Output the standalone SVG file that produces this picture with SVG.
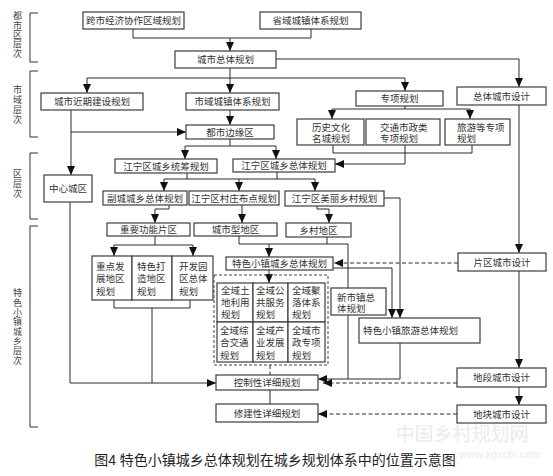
<svg xmlns="http://www.w3.org/2000/svg" width="553" height="476" viewBox="0 0 553 476">
<style>
.b{fill:#fff;stroke:#3c3c3c;stroke-width:1.2}
.t{font-family:"Liberation Sans","Noto Sans CJK SC",sans-serif;font-size:9.5px;fill:#333;text-anchor:middle;dominant-baseline:central}
.l{text-anchor:start}
.vl{font-family:"Liberation Sans","Noto Sans CJK SC",sans-serif;font-size:9px;fill:#444;writing-mode:vertical-rl;text-anchor:start}
.c{fill:none;stroke:#2a2a2a;stroke-width:1}
.a{marker-end:url(#ah)}
.d{stroke-dasharray:4 2.5}
.br{fill:none;stroke:#333;stroke-width:1}
.cap{font-family:"Liberation Sans","Noto Sans CJK SC",sans-serif;font-size:14px;fill:#222;text-anchor:middle;dominant-baseline:central}
.wm{font-family:"Liberation Sans","Noto Sans CJK SC",sans-serif;fill:#ebebeb;text-anchor:middle;dominant-baseline:central}
</style>
<defs>
<marker id="ah" markerUnits="userSpaceOnUse" markerWidth="9" markerHeight="8" refX="9" refY="4" orient="auto">
<path d="M0,0 L9,4 L0,8 Z" fill="#111"/>
</marker>
</defs>
<rect width="553" height="476" fill="#fff"/>

<g id="levels">
<path class="br" d="M38,13 H30 V62 H38 M38,71 H30 V137 H38 M38,153 H30 V219 H38 M38,226 H30 V427 H38"/>
<text class="vl" x="17" y="11.5" letter-spacing="0.3">都市区层次</text>
<text class="vl" x="17" y="85" letter-spacing="1">市域层次</text>
<text class="vl" x="17" y="169" letter-spacing="1">区层次</text>
<text class="vl" x="17" y="288.5" letter-spacing="0.6">特色小镇城乡层次</text>
</g>

<g id="connectors">
<path class="c" d="M133,29 V38 H311 V29"/>
<path class="c a" d="M230,38 V51"/>
<path class="c a" d="M276,59 H519 V87"/>
<path class="c" d="M230,68 V78 M87,78 H405"/>
<path class="c a" d="M87,78 V93"/>
<path class="c a" d="M230,78 V93"/>
<path class="c a" d="M405,78 V91"/>
<path class="c" d="M405,106 V109 M332,109 H470"/>
<path class="c a" d="M332,109 V119"/>
<path class="c a" d="M470,109 V119"/>
<path class="c" d="M333,145 V153 H472 V145 M405,145 V164"/>
<path class="c a" d="M405,164 H335"/>
<path class="c a" d="M519,105 V253"/>
<path class="c a" d="M71,110 V175"/>
<path class="c a" d="M71,132 H186"/>
<path class="c a" d="M230,110 V125"/>
<path class="c" d="M230,139 V146 M185,146 H276"/>
<path class="c a" d="M185,146 V159"/>
<path class="c a" d="M276,146 V159"/>
<path class="c" d="M187,173 V179 M277,172 V179 M164,179 H315"/>
<path class="c a" d="M164,179 V191"/>
<path class="c a" d="M239,179 V191"/>
<path class="c a" d="M315,179 V191"/>
<path class="c a" d="M169,205 V209 H155 V223"/>
<path class="c a" d="M242,205 V223"/>
<path class="c a" d="M317,206 V209 H329 V223"/>
<path class="c a" d="M384,198 H400 V318"/>
<path class="c" d="M155,236 V245 M114,245 H193"/>
<path class="c a" d="M114,245 V256"/>
<path class="c a" d="M193,245 V256"/>
<path class="c" d="M239,236 V244 H348 V288 M327,237 V244"/>
<path class="c a" d="M269,244 V257"/>
<path class="c a" d="M269,270 V283"/>
<path class="c a" d="M333,268 H392 V318"/>
<path class="c d a" d="M458,263 H334"/>
<path class="c a" d="M519,271 V368"/>
<path class="c a" d="M519,387 V405"/>
<path class="c" d="M348,315 V379 M400,343 V379"/>
<path class="c a" d="M400,379 H318"/>
<path class="c d a" d="M457,383 H323"/>
<path class="c a" d="M70,202 V383 H216"/>
<path class="c" d="M114,300 V308 H190 V300 M152,308 V383"/>
<path class="c d" d="M270,365 V375"/>
<path class="c" d="M270,390 V404"/>
<path class="c d a" d="M457,414 H318"/>
</g>

<g id="n-kuashi"><rect class="b" x="83" y="12" width="101" height="17"/><text class="t" x="133.5" y="20.5">跨市经济协作区域规划</text></g>
<g id="n-shengyu"><rect class="b" x="260" y="12" width="101" height="17"/><text class="t" x="310.5" y="20.5">省域城镇体系规划</text></g>
<g id="n-zongti"><rect class="b" x="175" y="51" width="101" height="17"/><text class="t" x="225.5" y="59.5">城市总体规划</text></g>
<g id="n-jinqi"><rect class="b" x="41" y="93" width="102" height="17"/><text class="t" x="92" y="101.5">城市近期建设规划</text></g>
<g id="n-shiyu"><rect class="b" x="186" y="93" width="93" height="17"/><text class="t" x="232.5" y="101.5">市域城镇体系规划</text></g>
<g id="n-zhuanxiang"><rect class="b" x="356" y="91" width="87" height="15"/><text class="t" x="399.5" y="98.5">专项规划</text></g>
<g id="n-zongtisheji"><rect class="b" x="457" y="87" width="89" height="18"/><text class="t" x="501.5" y="96">总体城市设计</text></g>
<g id="n-lishi"><rect class="b" x="297" y="119" width="67" height="26"/><text class="t l" x="312" y="127">历史文化</text><text class="t l" x="312" y="138.5">名城规划</text></g>
<g id="n-jiaotong"><rect class="b" x="366" y="119" width="74" height="26"/><text class="t l" x="380" y="127">交通市政类</text><text class="t l" x="380" y="138.5">专项规划</text></g>
<g id="n-lvyou"><rect class="b" x="445" y="119" width="65" height="26"/><text class="t l" x="457" y="127">旅游等专项</text><text class="t l" x="457" y="138.5">规划</text></g>
<g id="n-bianyuan"><rect class="b" x="186" y="125" width="88" height="14"/><text class="t" x="230" y="132">都市边缘区</text></g>
<g id="n-tongchou"><rect class="b" x="115" y="159" width="102" height="14"/><text class="t" x="166" y="166">江宁区城乡统筹规划</text></g>
<g id="n-jnzongti"><rect class="b" x="233" y="159" width="102" height="13"/><text class="t" x="284" y="165.5">江宁区城乡总体规划</text></g>
<g id="n-zhongxin"><rect class="b" x="44" y="175" width="48" height="27"/><text class="t" x="68" y="188.5">中心城区</text></g>
<g id="n-fucheng"><rect class="b" x="103" y="191" width="84" height="14"/><text class="t" x="145" y="198">副城城乡总体规划</text></g>
<g id="n-cunzhuang"><rect class="b" x="189" y="191" width="90" height="14"/><text class="t" x="234" y="198">江宁区村庄布点规划</text></g>
<g id="n-meili"><rect class="b" x="285" y="191" width="99" height="15"/><text class="t" x="334.5" y="198.5">江宁区美丽乡村规划</text></g>
<g id="n-zhongyao"><rect class="b" x="107" y="223" width="83" height="13"/><text class="t" x="148.5" y="229.5">重要功能片区</text></g>
<g id="n-chengshixing"><rect class="b" x="194" y="223" width="83" height="13"/><text class="t" x="235.5" y="229.5">城市型地区</text></g>
<g id="n-xiangcun"><rect class="b" x="286" y="223" width="65" height="14"/><text class="t" x="318.5" y="230">乡村地区</text></g>
<g id="n-zhongdian"><rect class="b" x="92" y="256" width="40" height="44"/><text class="t l" x="96" y="266">重点发</text><text class="t l" x="96" y="278.5">展地区</text><text class="t l" x="96" y="291">规划</text></g>
<g id="n-tese"><rect class="b" x="132" y="256" width="40" height="44"/><text class="t l" x="137" y="266">特色打</text><text class="t l" x="137" y="278.5">造地区</text><text class="t l" x="137" y="291">规划</text></g>
<g id="n-kaifa"><rect class="b" x="172" y="256" width="41" height="44"/><text class="t l" x="179" y="266">开发园</text><text class="t l" x="179" y="278.5">区总体</text><text class="t l" x="179" y="291">规划</text></g>
<g id="n-tszongti"><rect class="b" x="226" y="257" width="107" height="13"/><text class="t" x="279.5" y="263.5">特色小镇城乡总体规划</text></g>
<g id="n-quanyu">
<rect x="214" y="275" width="114" height="90" fill="none" stroke="#444" stroke-width="1" stroke-dasharray="3 2"/>
<rect class="b" x="217" y="283" width="36" height="39"/><text class="t l" x="221" y="290">全域土</text><text class="t l" x="221" y="302">地利用</text><text class="t l" x="221" y="314">规划</text>
<rect class="b" x="253" y="283" width="35" height="39"/><text class="t l" x="256" y="290">全域公</text><text class="t l" x="256" y="302">共服务</text><text class="t l" x="256" y="314">规划</text>
<rect class="b" x="288" y="283" width="37" height="39"/><text class="t l" x="292" y="290">全域聚</text><text class="t l" x="292" y="302">落体系</text><text class="t l" x="292" y="314">规划</text>
<rect class="b" x="217" y="322" width="36" height="40"/><text class="t l" x="220" y="330">全域综</text><text class="t l" x="220" y="342.5">合交通</text><text class="t l" x="220" y="355">规划</text>
<rect class="b" x="253" y="322" width="35" height="40"/><text class="t l" x="256" y="330">全域产</text><text class="t l" x="256" y="342.5">业发展</text><text class="t l" x="256" y="355">规划</text>
<rect class="b" x="288" y="322" width="37" height="40"/><text class="t l" x="292" y="330">全域市</text><text class="t l" x="292" y="342.5">政专项</text><text class="t l" x="292" y="355">规划</text>
</g>
<g id="n-xinshizhen"><rect class="b" x="331" y="288" width="55" height="27"/><text class="t l" x="337" y="297">新市镇总</text><text class="t l" x="337" y="308.5">体规划</text></g>
<g id="n-lvyouzongti"><rect class="b" x="359" y="318" width="121" height="25"/><text class="t l" x="363" y="330.5">特色小镇旅游总体规划</text></g>
<g id="n-pianqu"><rect class="b" x="458" y="253" width="88" height="18"/><text class="t" x="502" y="262">片区城市设计</text></g>
<g id="n-kongzhi"><rect class="b" x="216" y="375" width="102" height="15"/><text class="t" x="267" y="382.5">控制性详细规划</text></g>
<g id="n-xiujian"><rect class="b" x="216" y="404" width="102" height="18"/><text class="t" x="267" y="413">修建性详细规划</text></g>
<g id="n-diduan"><rect class="b" x="457" y="368" width="89" height="19"/><text class="t" x="501.5" y="377.5">地段城市设计</text></g>
<g id="n-dikuai"><rect class="b" x="457" y="405" width="89" height="18"/><text class="t" x="501.5" y="414">地块城市设计</text></g>

<g id="watermark">
<text class="wm" x="462" y="434" font-size="19">中国乡村规划网</text>
<text class="wm" x="500" y="454" font-size="11">www.xgxcfx.com</text>
</g>
<g id="caption"><text class="cap" x="275" y="460">图4 特色小镇城乡总体规划在城乡规划体系中的位置示意图</text></g>
</svg>
